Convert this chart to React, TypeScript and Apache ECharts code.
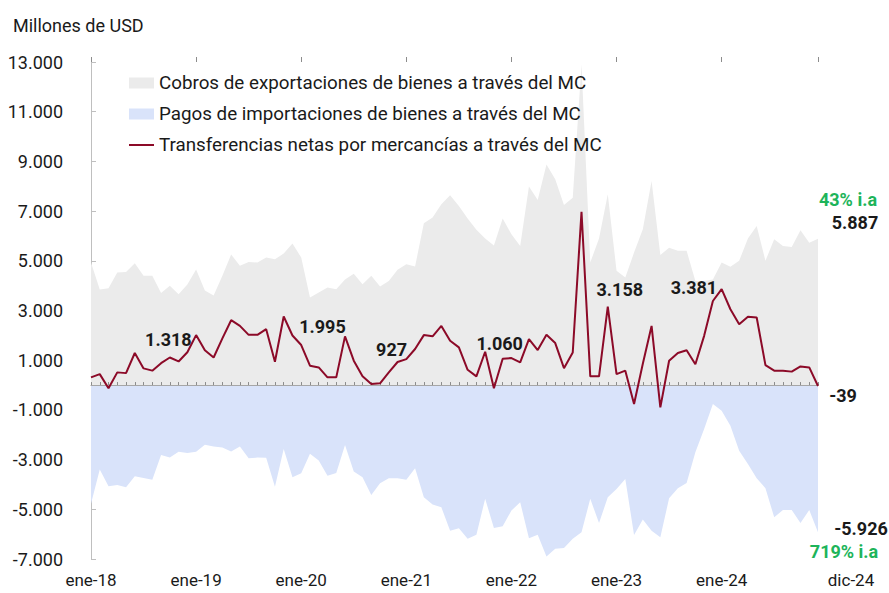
import React, { useEffect, useRef } from "react";
import * as echarts from "echarts";

const monthNames = ["ene", "feb", "mar", "abr", "may", "jun", "jul", "ago", "sep", "oct", "nov", "dic"];
const years = ["18", "19", "20", "21", "22", "23", "24"];
const categories: string[] = [];
years.forEach((y) => monthNames.forEach((m) => categories.push(`${m}-${y}`)));

const exportsData = [
  4930, 3850, 3900, 4530, 4550, 4900, 4400, 4400, 3700, 4000, 3650, 4050,
  4650, 3800, 3600, 4400, 5250, 4800, 4950, 4930, 5130, 5060, 5290, 5700,
  5130, 3520, 3720, 3930, 3860, 4250, 4480, 4060, 4400, 3970, 4190, 4640,
  4860, 4770, 6510, 6740, 7280, 7640, 7210, 6700, 6250, 5900, 5620, 6700,
  6070, 5600, 7990, 7450, 8880, 8280, 7250, 7540, 12900, 4930, 5900, 7680,
  4600, 4330, 5330, 6270, 8210, 5230, 5530, 5400, 5400, 4190, 4190, 4250,
  4930, 4760, 5000, 5900, 6400, 5000, 5870, 5600, 5560, 6230, 5730, 5887,
];

const importsData = [
  -4780, -3400, -4070, -4020, -4110, -3670, -3740, -3810, -2810, -2920, -2680, -2730,
  -2680, -2400, -2470, -2510, -2670, -2470, -2950, -2920, -2930, -4090, -2570, -3710,
  -3550, -2760, -3040, -3650, -3540, -2410, -3480, -3710, -4420, -3950, -3750, -3750,
  -3810, -3350, -4520, -4810, -4920, -5860, -5760, -6190, -6020, -4580, -5750, -5680,
  -5050, -4720, -6160, -6020, -6900, -6590, -6560, -6190, -5920, -4580, -5550, -4520,
  -4180, -3780, -6030, -5410, -5860, -6120, -4560, -4150, -3940, -2700, -1770, -760,
  -1030, -1640, -2640, -3180, -3750, -4150, -5320, -5030, -5030, -5550, -5030, -5926,
];

const netData = [
  310, 440, -130, 510, 480, 1290, 670, 580, 880, 1110, 950, 1318,
  2010, 1400, 1110, 1880, 2610, 2380, 2020, 2020, 2250, 940, 2760, 1995,
  1610, 780, 710, 310, 310, 1960, 980, 350, 40, 70, 510, 927,
  1045, 1450, 2010, 1960, 2380, 1780, 1515, 615, 350, 1340, -130, 1060,
  1085, 910, 1850, 1410, 2020, 1690, 680, 1310, 6970, 350, 350, 3158,
  440, 580, -760, 860, 2380, -900, 980, 1290, 1400, 840, 1980, 3381,
  3860, 3050, 2450, 2750, 2720, 800, 580, 580, 540, 750, 710, -39,
];

const yTicks = { min: -7000, max: 13000, interval: 2000 };
const labeledNetIdx = [11, 23, 35, 47, 59, 71, 83];
const labeledNetOffsets: [number, number][] = [
  [-19, -13], [30, -9], [-6, -13], [-3, -15], [12, -17], [-19, -14], [25, 9],
];
const exportGrowth = "43% i.a";
const importGrowth = "719% i.a";

const fmt = (v: number) => {
  const s = Math.abs(Math.round(v)).toString().replace(/\B(?=(\d{3})+(?!\d))/g, ".");
  return (v < 0 ? "-" : "") + s;
};

const FONT = "Roboto";
const TXT = "#1a1a1a";
const GREEN = "#1db45a";
const RED = "#8c0a28";

export default function App() {
  const ref = useRef<HTMLDivElement>(null);
  useEffect(() => {
    if (!ref.current) return;
    const chart = echarts.init(ref.current, null, { renderer: "svg" });
    const last = categories.length - 1;
    const boldLabel = { color: TXT, fontFamily: FONT, fontWeight: "bold" as const, fontSize: 18 };
    const mpBase = {
      symbol: "rect",
      symbolSize: 1,
      itemStyle: { color: "rgba(0,0,0,0)" },
      silent: true,
      animation: false,
    };
    chart.setOption({
      animation: false,
      textStyle: { fontFamily: FONT },
      title: {
        text: "Millones de USD",
        left: 8,
        top: 11,
        textStyle: { fontFamily: FONT, fontSize: 18, fontWeight: "normal", color: TXT },
      },
      legend: {
        orient: "vertical",
        left: 124,
        top: 68,
        itemWidth: 25,
        itemHeight: 11,
        itemGap: 11,
        selectedMode: false,
        textStyle: { fontFamily: FONT, fontSize: 18.8, color: TXT, lineHeight: 20 },
        data: [
          { name: "Cobros de exportaciones de bienes a través del MC", icon: "rect" },
          { name: "Pagos de importaciones de bienes a través del MC", icon: "rect" },
          {
            name: "Transferencias netas por mercancías a través del MC",
            icon: "path://M0,0 M0,4.5 L25,4.5 L25,6.5 L0,6.5 Z M25,11",
          },
        ],
      },
      grid: { left: 91, right: 71, top: 62, bottom: 34, containLabel: false },
      xAxis: [
        {
          type: "category",
          data: categories,
          boundaryGap: false,
          position: "bottom",
          axisLine: { show: false, onZero: false },
          axisTick: { show: false },
          axisLabel: {
            interval: (i: number) => i % 12 === 0 || i === last,
            margin: 12,
            fontSize: 17,
            fontFamily: FONT,
            color: TXT,
            formatter: (v: string, i: number) => (i === last ? `{d|${v}}` : v),
            rich: { d: { fontSize: 17, fontFamily: FONT, color: TXT, padding: [0, 0, 0, 66] } },
          },
        },
        {
          type: "category",
          data: categories,
          boundaryGap: false,
          position: "top",
          z: 10,
          axisLine: { show: true, onZero: true, lineStyle: { color: "#a6a6a6", width: 1.2 } },
          axisTick: { show: true, interval: 0, length: 3, lineStyle: { color: "#8c8c8c" } },
          axisLabel: { show: false },
        },
        {
          type: "category",
          data: categories,
          boundaryGap: false,
          position: "top",
          z: 10,
          axisLine: { show: false, onZero: true },
          axisTick: {
            show: true,
            interval: (i: number) => i % 12 === 0 || i === last,
            length: 5,
            lineStyle: { color: "#8c8c8c" },
          },
          axisLabel: { show: false },
        },
      ],
      yAxis: {
        type: "value",
        min: yTicks.min,
        max: yTicks.max,
        interval: yTicks.interval,
        axisLine: { show: true, lineStyle: { color: "#bfbfbf" } },
        axisTick: { show: true, inside: true, length: 5, lineStyle: { color: "#bfbfbf" } },
        splitLine: { show: false },
        axisLabel: { fontSize: 18, fontFamily: FONT, color: TXT, margin: 28, formatter: (v: number) => fmt(v) },
      },
      series: [
        {
          name: "Cobros de exportaciones de bienes a través del MC",
          type: "line",
          data: exportsData,
          symbol: "none",
          lineStyle: { width: 0 },
          itemStyle: { color: "#ebebeb" },
          areaStyle: { color: "#ebebeb", opacity: 1 },
          z: 1,
          markPoint: {
            ...mpBase,
            data: [
              {
                coord: [last, exportsData[last]],
                value: exportsData[last],
                label: { ...boldLabel, color: GREEN, offset: [30, -39], formatter: () => exportGrowth },
              },
              {
                coord: [last, exportsData[last]],
                value: exportsData[last],
                label: { ...boldLabel, offset: [37, -16], formatter: () => fmt(exportsData[last]) },
              },
            ],
          },
        },
        {
          name: "Pagos de importaciones de bienes a través del MC",
          type: "line",
          data: importsData,
          symbol: "none",
          lineStyle: { width: 0 },
          itemStyle: { color: "#d9e3fa" },
          areaStyle: { color: "#d9e3fa", opacity: 1 },
          z: 1,
          markPoint: {
            ...mpBase,
            data: [
              {
                coord: [last, importsData[last]],
                value: importsData[last],
                label: { ...boldLabel, offset: [43, -4], formatter: () => fmt(importsData[last]) },
              },
              {
                coord: [last, importsData[last]],
                value: importsData[last],
                label: { ...boldLabel, color: GREEN, offset: [26, 19], formatter: () => importGrowth },
              },
            ],
          },
        },
        {
          name: "Transferencias netas por mercancías a través del MC",
          type: "line",
          data: netData,
          symbol: "none",
          lineStyle: { width: 2, color: RED },
          itemStyle: { color: RED },
          z: 20,
          markPoint: {
            ...mpBase,
            data: labeledNetIdx.map((idx, k) => ({
              coord: [idx, netData[idx]],
              value: netData[idx],
              label: { ...boldLabel, offset: labeledNetOffsets[k], formatter: () => fmt(netData[idx]) },
            })),
          },
        },
      ],
    });
    return () => chart.dispose();
  }, []);
  return (
    <div
      ref={ref}
      style={{ position: "absolute", left: 0, top: 0, width: 889, height: 593, background: "#fff" }}
    />
  );
}
